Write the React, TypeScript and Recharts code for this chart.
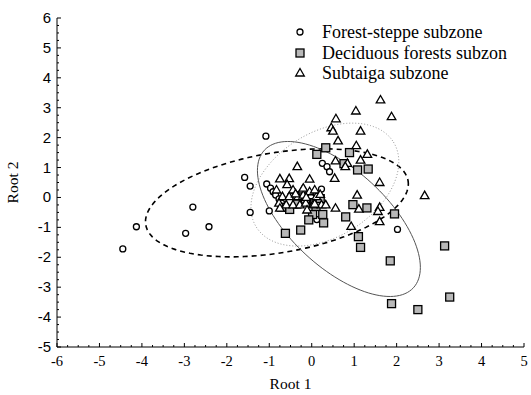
import React from "react";
import * as Recharts from "recharts";
import {
  ScatterChart,
  Scatter,
  XAxis,
  YAxis,
  Legend,
  Customized,
} from "recharts";

// Root 1 / Root 2 scores
const forestSteppe: [number, number][] = [
  [-4.45, -1.72], [-4.13, -0.98], [-2.8, -0.32], [-2.97, -1.2], [-2.42, -0.98],
  [-1.58, 0.67], [-1.45, 0.38], [-1.45, -0.5], [-1.08, 2.05], [-1.06, 0.45],
  [-0.97, 0.31], [-0.91, 0.19], [-0.85, 0.08], [-0.77, -0.05], [-0.71, -0.19],
  [-0.64, -0.31], [-1.0, -0.45], [0.25, 1.14], [0.36, 1.03], [0.42, 0.86],
  [0.23, 0.28], [0.12, -0.74], [2.02, -1.07], [-0.3, 0.1], [0.0, -0.15],
  [-0.5, 0.05],
];

const deciduous: [number, number][] = [
  [0.33, 1.66], [0.12, 1.44], [0.89, 1.5], [0.76, 1.13], [1.08, 0.92],
  [1.33, 0.95], [0.97, -0.24], [1.3, -0.35], [0.8, -0.65], [1.1, -1.31],
  [1.15, -1.67], [1.85, -2.12], [1.95, -0.55], [-0.62, -1.2], [-0.26, -1.09],
  [0.02, -0.57], [0.26, -0.57], [0.28, -0.85], [-0.07, -0.75], [0.07, -0.07],
  [0.2, -0.04], [-0.52, -0.4], [-0.71, -0.33], [3.13, -1.62], [3.25, -3.33],
  [1.88, -3.55], [2.5, -3.75], [-0.35, -0.22], [0.1, -0.3], [-0.15, -0.05],
];

const subtaiga: [number, number][] = [
  [1.62, 3.26], [1.04, 2.89], [1.88, 2.7], [0.57, 2.63], [0.46, 2.33],
  [0.5, 2.22], [1.15, 2.22], [0.62, 1.89], [1.05, 1.73], [1.31, 1.44],
  [1.15, 1.25], [0.56, 1.22], [0.84, 1.14], [0.79, 1.03], [1.6, 0.5],
  [0.54, 0.64], [-0.05, 0.61], [1.07, 0.08], [-0.34, 1.03], [2.66, 0.06],
  [-0.75, 0.62], [-0.53, 0.63], [-0.58, 0.43], [-0.44, 0.25], [-0.22, 0.25],
  [-0.83, 0.25], [-0.69, 0.03], [-0.53, 0.03], [-0.32, 0.03], [-0.2, 0.08],
  [-0.02, 0.06], [0.11, 0.03], [-0.77, -0.19], [-0.6, -0.25], [-0.44, -0.25],
  [-0.28, -0.25], [-0.14, -0.19], [0.03, -0.25], [-0.75, -0.36], [-0.11, -0.42],
  [-0.2, 0.31], [-0.05, 0.19], [0.07, 0.25], [-0.13, 0.0], [0.23, -0.25],
  [0.33, -0.25], [0.07, -0.22], [0.56, -0.36], [1.11, -0.39], [1.6, -0.33],
  [1.56, -0.47], [1.6, -0.81], [0.93, -0.97], [0.2, 0.1], [-0.38, 0.12],
];

const seriesNames = ["Forest-steppe subzone", "Deciduous forests subzon", "Subtaiga subzone"];

// confidence ellipses: centre and two semi-axis vectors, in Root units
const ellipseCentres: [number, number][] = [[-0.82, -0.18], [0.64, -0.72], [0.31, 0.43]];
const ellipseAxisU: [number, number][] = [[3.09, 0.735], [1.755, -2.3], [1.617, 1.418]];
const ellipseAxisV: [number, number][] = [[0.194, -1.65], [-0.776, -1.194], [0.647, -1.488]];

const xTicks = [-6, -5, -4, -3, -2, -1, 0, 1, 2, 3, 4, 5];
const yTicks = [-5, -4, -3, -2, -1, 0, 1, 2, 3, 4, 5, 6];
const X_DOMAIN: [number, number] = [-6, 5];
const Y_DOMAIN: [number, number] = [-5, 6];

const withMinor = (major: number[]) => {
  const out: number[] = [];
  for (let i = 0; i < major.length - 1; i++) {
    for (let k = 0; k < 4; k++) out.push(major[i] + k * 0.25);
  }
  out.push(major[major.length - 1]);
  return out;
};
const xTicksAll = withMinor(xTicks);
const yTicksAll = withMinor(yTicks);

const toPoints = (arr: [number, number][]) => arr.map(([x, y]) => ({ x, y }));

const SERIF = "'Liberation Serif', 'Times New Roman', serif";
const SANS = "'Liberation Sans', Arial, sans-serif";

function Marker({ kind, cx, cy }: { kind: number; cx: number; cy: number }) {
  if (kind === 0)
    return <circle cx={cx} cy={cy} r={3} fill="#fff" stroke="#000" strokeWidth={1.3} />;
  if (kind === 1)
    return (
      <rect x={cx - 4} y={cy - 4} width={8} height={8} fill="#b8b8b8" stroke="#000" strokeWidth={1.3} />
    );
  return (
    <polygon
      points={`${cx},${cy - 4.5} ${cx + 4.3},${cy + 3} ${cx - 4.3},${cy + 3}`}
      fill="#fff"
      stroke="#000"
      strokeWidth={1.3}
    />
  );
}

const isMajor = (v: number) => Math.abs(v - Math.round(v)) < 1e-6;

function TickMark(props: any) {
  const { x, y, payload, side } = props;
  const v = payload.value;
  const len = isMajor(v) ? 4 : 2;
  if (side === "bottom")
    return (
      <g>
        <line x1={x} y1={y} x2={x} y2={y - len} stroke="#000" />
        {isMajor(v) && (
          <text x={x} y={y + 19} textAnchor="middle" fontFamily={SERIF} fontSize={14.5} fill="#000">
            {v}
          </text>
        )}
      </g>
    );
  if (side === "left")
    return (
      <g>
        <line x1={x} y1={y} x2={x + len} y2={y} stroke="#000" />
        {isMajor(v) && (
          <text x={x - 6} y={y + 5} textAnchor="end" fontFamily={SANS} fontSize={15} fill="#000">
            {v}
          </text>
        )}
      </g>
    );
  if (side === "top") return <line x1={x} y1={y} x2={x} y2={y + len} stroke="#000" />;
  return <line x1={x} y1={y} x2={x - len} y2={y} stroke="#000" />;
}

const ellipseStyles = [
  { stroke: "#000", strokeWidth: 1.6, strokeDasharray: "5 4" },
  { stroke: "#555", strokeWidth: 1, strokeDasharray: undefined },
  { stroke: "#999", strokeWidth: 1, strokeDasharray: "1 2" },
];

const R: any = Recharts;
const usePlot: () => any = R.usePlotArea ? R.usePlotArea : () => null;

function Ellipses() {
  const area = usePlot() || { x: 57, y: 18, width: 467, height: 329 };
  const px = (v: number) => area.x + ((v - X_DOMAIN[0]) / (X_DOMAIN[1] - X_DOMAIN[0])) * area.width;
  const py = (v: number) => area.y + ((Y_DOMAIN[1] - v) / (Y_DOMAIN[1] - Y_DOMAIN[0])) * area.height;
  return (
    <g>
      {ellipseCentres.map((c, i) => {
        const u = ellipseAxisU[i];
        const v = ellipseAxisV[i];
        let d = "";
        for (let k = 0; k <= 120; k++) {
          const t = (k / 120) * Math.PI * 2;
          const ex = c[0] + u[0] * Math.cos(t) + v[0] * Math.sin(t);
          const ey = c[1] + u[1] * Math.cos(t) + v[1] * Math.sin(t);
          d += `${k === 0 ? "M" : "L"}${px(ex).toFixed(2)},${py(ey).toFixed(2)}`;
        }
        return <path key={i} d={d + "Z"} fill="none" {...ellipseStyles[i]} />;
      })}
    </g>
  );
}

function LegendBox() {
  return (
    <div style={{ fontFamily: SERIF, fontSize: "18px", color: "#000", lineHeight: 1 }}>
      {seriesNames.map((name, i) => (
        <div key={name} style={{ display: "flex", alignItems: "center", height: 20.5, whiteSpace: "nowrap" }}>
          <svg width={16} height={12} style={{ marginRight: 12, flexShrink: 0 }}>
            <Marker kind={i} cx={6} cy={6} />
          </svg>
          <span style={{ fontFamily: SERIF, fontSize: "18px" }}>{name}</span>
        </div>
      ))}
    </div>
  );
}

export default function App() {
  const sets = [forestSteppe, deciduous, subtaiga];
  return (
    <div style={{ position: "absolute", left: 0, top: 0, background: "#fff" }}>
      <ScatterChart width={531} height={395} margin={{ top: 18, right: 7, bottom: 0, left: 0 }}>
        <XAxis
          xAxisId="b"
          dataKey="x"
          type="number"
          domain={X_DOMAIN}
          ticks={xTicksAll}
          interval={0}
          height={48}
          tickSize={0}
          tickMargin={0}
          tickLine={false}
          axisLine={{ stroke: "#000" }}
          tick={<TickMark side="bottom" />}
          label={{ value: "Root 1", position: "insideBottom", offset: 6, style: { fontFamily: SERIF, fontSize: 15.5, fill: "#000" } }}
        />
        <XAxis
          xAxisId="t"
          orientation="top"
          type="number"
          domain={X_DOMAIN}
          ticks={xTicksAll}
          interval={0}
          height={0}
          tickSize={0}
          tickMargin={0}
          tickLine={false}
          axisLine={{ stroke: "#000" }}
          tick={<TickMark side="top" />}
        />
        <YAxis
          yAxisId="l"
          dataKey="y"
          type="number"
          domain={Y_DOMAIN}
          ticks={yTicksAll}
          interval={0}
          width={57}
          tickSize={0}
          tickMargin={0}
          tickLine={false}
          axisLine={{ stroke: "#000" }}
          tick={<TickMark side="left" />}
          label={{ value: "Root 2", angle: -90, position: "insideLeft", offset: 12, style: { fontFamily: SERIF, fontSize: 15.5, fill: "#000", textAnchor: "middle" } }}
        />
        <YAxis
          yAxisId="r"
          orientation="right"
          type="number"
          domain={Y_DOMAIN}
          ticks={yTicksAll}
          interval={0}
          width={0}
          tickSize={0}
          tickMargin={0}
          tickLine={false}
          axisLine={{ stroke: "#000" }}
          tick={<TickMark side="right" />}
        />
        <Customized component={<Ellipses />} />
        {sets.map((s, i) => (
          <Scatter
            key={seriesNames[i]}
            name={seriesNames[i]}
            data={toPoints(s)}
            xAxisId="b"
            yAxisId="l"
            isAnimationActive={false}
            shape={(p: any) => <Marker kind={i} cx={p.cx} cy={p.cy} />}
          />
        ))}
        <Legend
          layout="vertical"
          align="center"
          verticalAlign="middle"
          content={() => <LegendBox />}
          wrapperStyle={{ position: "absolute", left: 294, top: 22, width: 236 }}
        />
      </ScatterChart>
    </div>
  );
}
